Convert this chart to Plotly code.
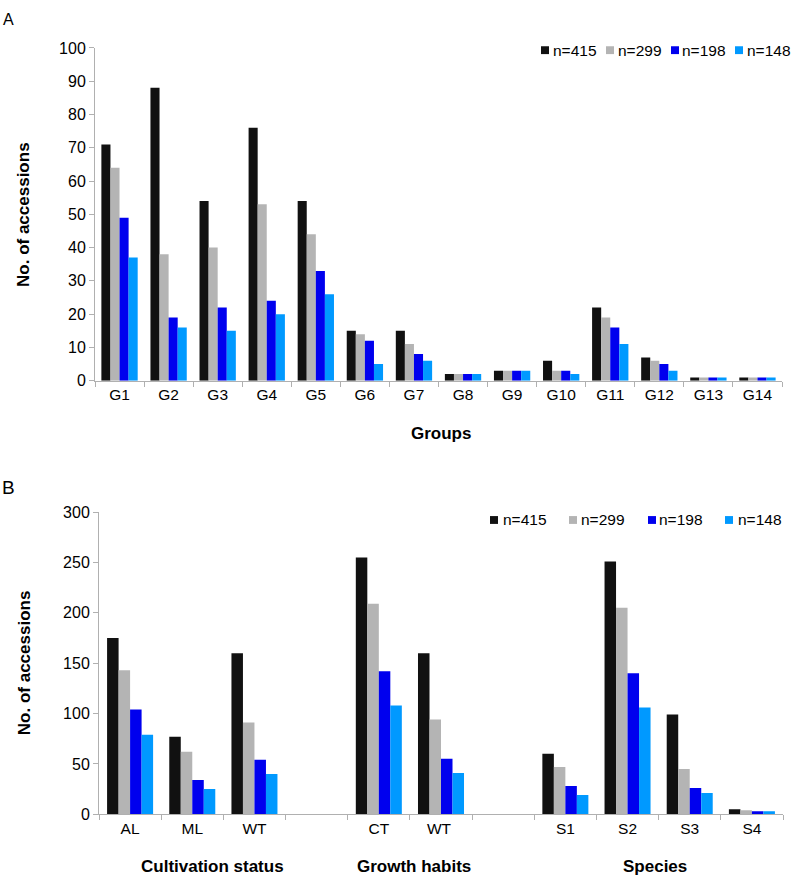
import plotly.graph_objects as go

W, H = 792, 887

series_names = ["n=415", "n=299", "n=198", "n=148"]
series_colors = ["#111111", "#b4b4b4", "#0000ee", "#0099ff"]

# Panel A
groups_a = ["G1", "G2", "G3", "G4", "G5", "G6", "G7", "G8", "G9", "G10", "G11", "G12", "G13", "G14"]
a_n415 = [71, 88, 54, 76, 54, 15, 15, 2, 3, 6, 22, 7, 1, 1]
a_n299 = [64, 38, 40, 53, 44, 14, 11, 2, 3, 3, 19, 6, 1, 1]
a_n198 = [49, 19, 22, 24, 33, 12, 8, 2, 3, 3, 16, 5, 1, 1]
a_n148 = [37, 16, 15, 20, 26, 5, 6, 2, 3, 2, 11, 3, 1, 1]
a_ticks = [0, 10, 20, 30, 40, 50, 60, 70, 80, 90, 100]

# Panel B (blank slots separate the three classifications)
cats_b = ["AL", "ML", "WT", " ", "CT", "WT ", "  ", "S1", "S2", "S3", "S4"]
b_n415 = [175, 77, 160, None, 255, 160, None, 60, 251, 99, 5]
b_n299 = [143, 62, 91, None, 209, 94, None, 47, 205, 45, 4]
b_n198 = [104, 34, 54, None, 142, 55, None, 28, 140, 26, 3]
b_n148 = [79, 25, 40, None, 108, 41, None, 19, 106, 21, 3]
b_ticks = [0, 50, 100, 150, 200, 250, 300]
b_group_titles = ["Cultivation status", "Growth habits", "Species"]

FONT = "Liberation Sans, Arial, Helvetica, sans-serif"


def px_x(x):
    return x / W


def px_y(y):
    return 1 - y / H


fig = go.Figure()
for name, color, vals in zip(series_names, series_colors, [a_n415, a_n299, a_n198, a_n148]):
    fig.add_trace(go.Bar(x=groups_a, y=vals, name=name, marker=dict(color=color, line=dict(width=0)),
                         xaxis="x", yaxis="y", showlegend=False))
for name, color, vals in zip(series_names, series_colors, [b_n415, b_n299, b_n198, b_n148]):
    fig.add_trace(go.Bar(x=cats_b, y=vals, name=name, marker=dict(color=color, line=dict(width=0)),
                         xaxis="x2", yaxis="y2", showlegend=False))

axis_col = "#b0b0b0"
common_x = dict(type="category", showline=True, linecolor=axis_col, linewidth=1, ticks="outside",
                tickson="boundaries", ticklen=5, tickcolor=axis_col, showgrid=False, zeroline=False,
                tickfont=dict(family=FONT, size=15.5, color="#000"))
common_y = dict(showline=True, linecolor=axis_col, linewidth=1, ticks="outside", ticklen=5,
                tickcolor=axis_col, showgrid=False, zeroline=False,
                tickfont=dict(family=FONT, size=16, color="#000"))

fig.update_layout(
    width=W, height=H,
    margin=dict(l=0, r=0, t=0, b=0),
    paper_bgcolor="white", plot_bgcolor="white",
    barmode="group", bargap=0.26, bargroupgap=0,
    font=dict(family=FONT, color="#000"),
    xaxis=dict(domain=[px_x(95), px_x(782)], anchor="y", categoryorder="array", categoryarray=groups_a, **common_x),
    yaxis=dict(domain=[px_y(380), px_y(40.7)], anchor="x", range=[0, 100], tickvals=a_ticks, **common_y),
    xaxis2=dict(domain=[px_x(99), px_x(783)], anchor="y2", categoryorder="array", categoryarray=cats_b, **common_x),
    yaxis2=dict(domain=[px_y(822), px_y(514)], anchor="x2", range=[0, 300], tickvals=b_ticks, **common_y),
)

ann = []
shapes = []


def note(text, x, y, size, xanchor="center", angle=0):
    ann.append(dict(text=text, x=px_x(x), y=px_y(y), xref="paper", yref="paper", xanchor=xanchor,
                    yanchor="middle", textangle=angle, showarrow=False, borderpad=0,
                    font=dict(size=size, family=FONT)))


# Panel letters
note("A", 2, 11.5, 16, xanchor="left")
note("B", 1, 489, 19, xanchor="left")
# Axis titles
for yc in (211, 668):
    note("<b>No. of accessions</b>", 24, yc, 17, angle=-90)
note("<b>Groups</b>", 441, 434, 17)
for t, xc in zip(b_group_titles, [212, 414, 655]):
    note("<b>%s</b>" % t, xc, 875, 17)

# Legends
legend_a = [(541, 553), (606, 618), (671, 682), (735, 747)]
legend_b = [(490, 503), (569, 581), (648, 659), (725, 738)]
for (pos, yc) in ((legend_a, 43), (legend_b, 522)):
    for (mx, tx), name, color in zip(pos, series_names, series_colors):
        shapes.append(dict(type="rect", xref="paper", yref="paper", x0=px_x(mx), x1=px_x(mx + 8),
                           y0=px_y(yc + 4), y1=px_y(yc - 4), fillcolor=color, line=dict(width=0)))
        note(name, tx - 1, yc, 15.5, xanchor="left")

fig.update_layout(annotations=ann, shapes=shapes)
fig.write_html("out.html", config={"displayModeBar": False},
               post_script="document.body.style.margin='0px';document.body.style.overflow='hidden';")
